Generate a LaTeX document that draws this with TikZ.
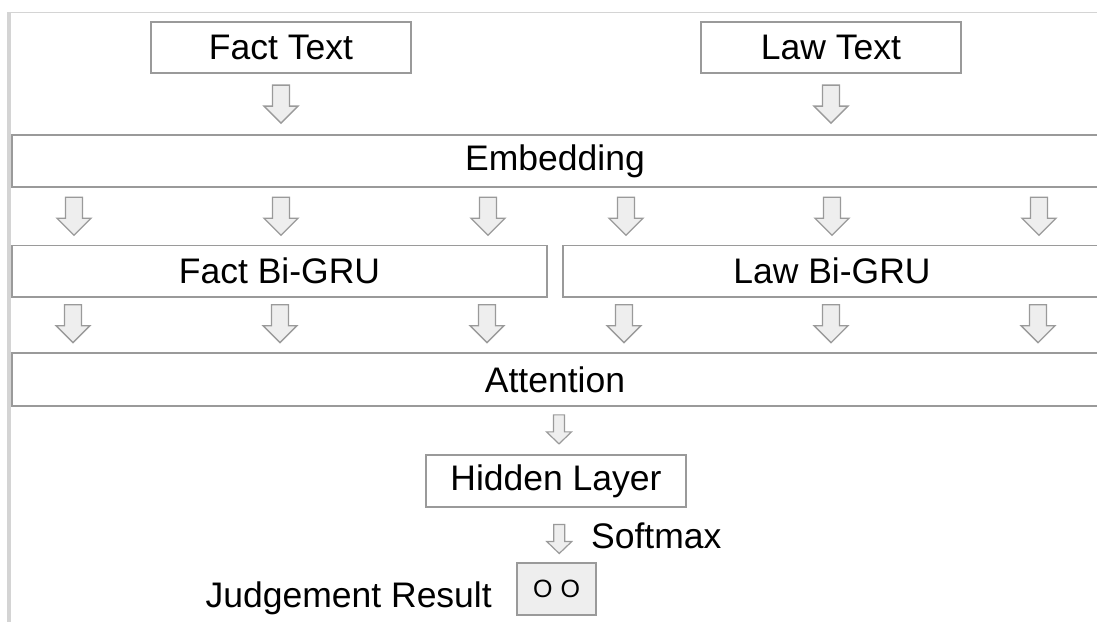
\documentclass[tikz,border=0pt]{standalone}
\usepackage{fontspec}
\setmainfont{Liberation Sans}
\usetikzlibrary{calc}

\definecolor{boxline}{HTML}{9A9A9A}
\definecolor{arrowfill}{HTML}{EEEEEE}
\definecolor{frameline}{HTML}{D4D4D4}

\tikzset{
  labelfont/.style={font=\fontsize{35.5}{40}\selectfont},
  layer/.style={draw=boxline, line width=1.8pt, fill=white, inner sep=0pt,
    minimum height=51.5pt, labelfont},
  % hollow block arrow, large
  bigarrow/.pic={
    \draw[draw=boxline, fill=arrowfill, line width=1.3pt, line join=miter]
      (-8.5,-19) -- (8.5,-19) -- (8.5,2) -- (17,2) -- (0,19) -- (-17,2) -- (-8.5,2) -- cycle;
  },
  % hollow block arrow, small
  smallarrow/.pic={
    \draw[draw=boxline, fill=arrowfill, line width=1.2pt, line join=miter]
      (-5.5,-14.5) -- (5.5,-14.5) -- (5.5,2.5) -- (12.5,2.5) -- (0,14.5) -- (-12.5,2.5) -- (-5.5,2.5) -- cycle;
  }
}

\begin{document}
\begin{tikzpicture}[x=1pt, y=-1pt]
  \useasboundingbox (0,0) rectangle (1097,622);
  \clip (0,0) rectangle (1097,622);

  % page frame
  \draw[frameline, line width=3.2pt] (9,12) -- (9,622);
  \draw[frameline, line width=1.4pt] (8,12.6) -- (1097,12.6);

  % layers
  \node[layer, minimum width=260pt] (fact) at (281,47.5) {Fact Text};
  \node[layer, minimum width=260pt] (law)  at (831,47.5) {Law Text};
  \node[layer, minimum width=1086pt, minimum height=52pt] (emb) at (555,161) {Embedding};
  \node[layer, minimum width=535pt] (fgru) at (279.5,271.3) {Fact Bi-GRU};
  \node[layer, minimum width=538pt] (lgru) at (832,271.3) {Law Bi-GRU};
  \node[layer, minimum width=1086pt, minimum height=52.5pt] (att) at (555,379.5) {Attention};
  \node[layer, minimum width=260pt, minimum height=52pt] (hid) at (556,481) {Hidden Layer};
  \node[layer, fill=arrowfill, minimum width=79pt, minimum height=52pt,
        font=\fontsize{25}{27}\selectfont] (res) at (556.5,589) {O\hspace{8pt}O};
  \node[labelfont, anchor=base east, inner sep=0pt] (jr) at (492,607) {Judgement Result};
  \node[labelfont, anchor=base west, inner sep=0pt] (sm) at (591,548) {Softmax};

  % flow arrows between layers
  \path (fact.south) -- (fact.south |- emb.north) pic[pos=0.5] {bigarrow};
  \path (law.south)  -- (law.south |- emb.north)  pic[pos=0.5] {bigarrow};

  \coordinate (r2) at ($(emb.south)!0.5!(fgru.north -| emb.south)$);
  \foreach \x in {74,281,488,626,832,1039}
    \pic at (\x,0 |- r2) {bigarrow};

  \coordinate (r3) at ($(fgru.south)!0.5!(att.north -| fgru.south)$);
  \foreach \x in {73,280,487,624,831,1038}
    \pic at ($(\x,0 |- r3)+(0,-1.5)$) {bigarrow};

  \coordinate (r4) at ($(att.south -| hid.north)!0.5!(hid.north)$);
  \pic at ($(r4)+(3,-1)$) {smallarrow};

  \coordinate (r5) at ($(hid.south)!0.5!(res.north)$);
  \pic at ($(r5)+(3,4)$) {smallarrow};
\end{tikzpicture}
\end{document}
